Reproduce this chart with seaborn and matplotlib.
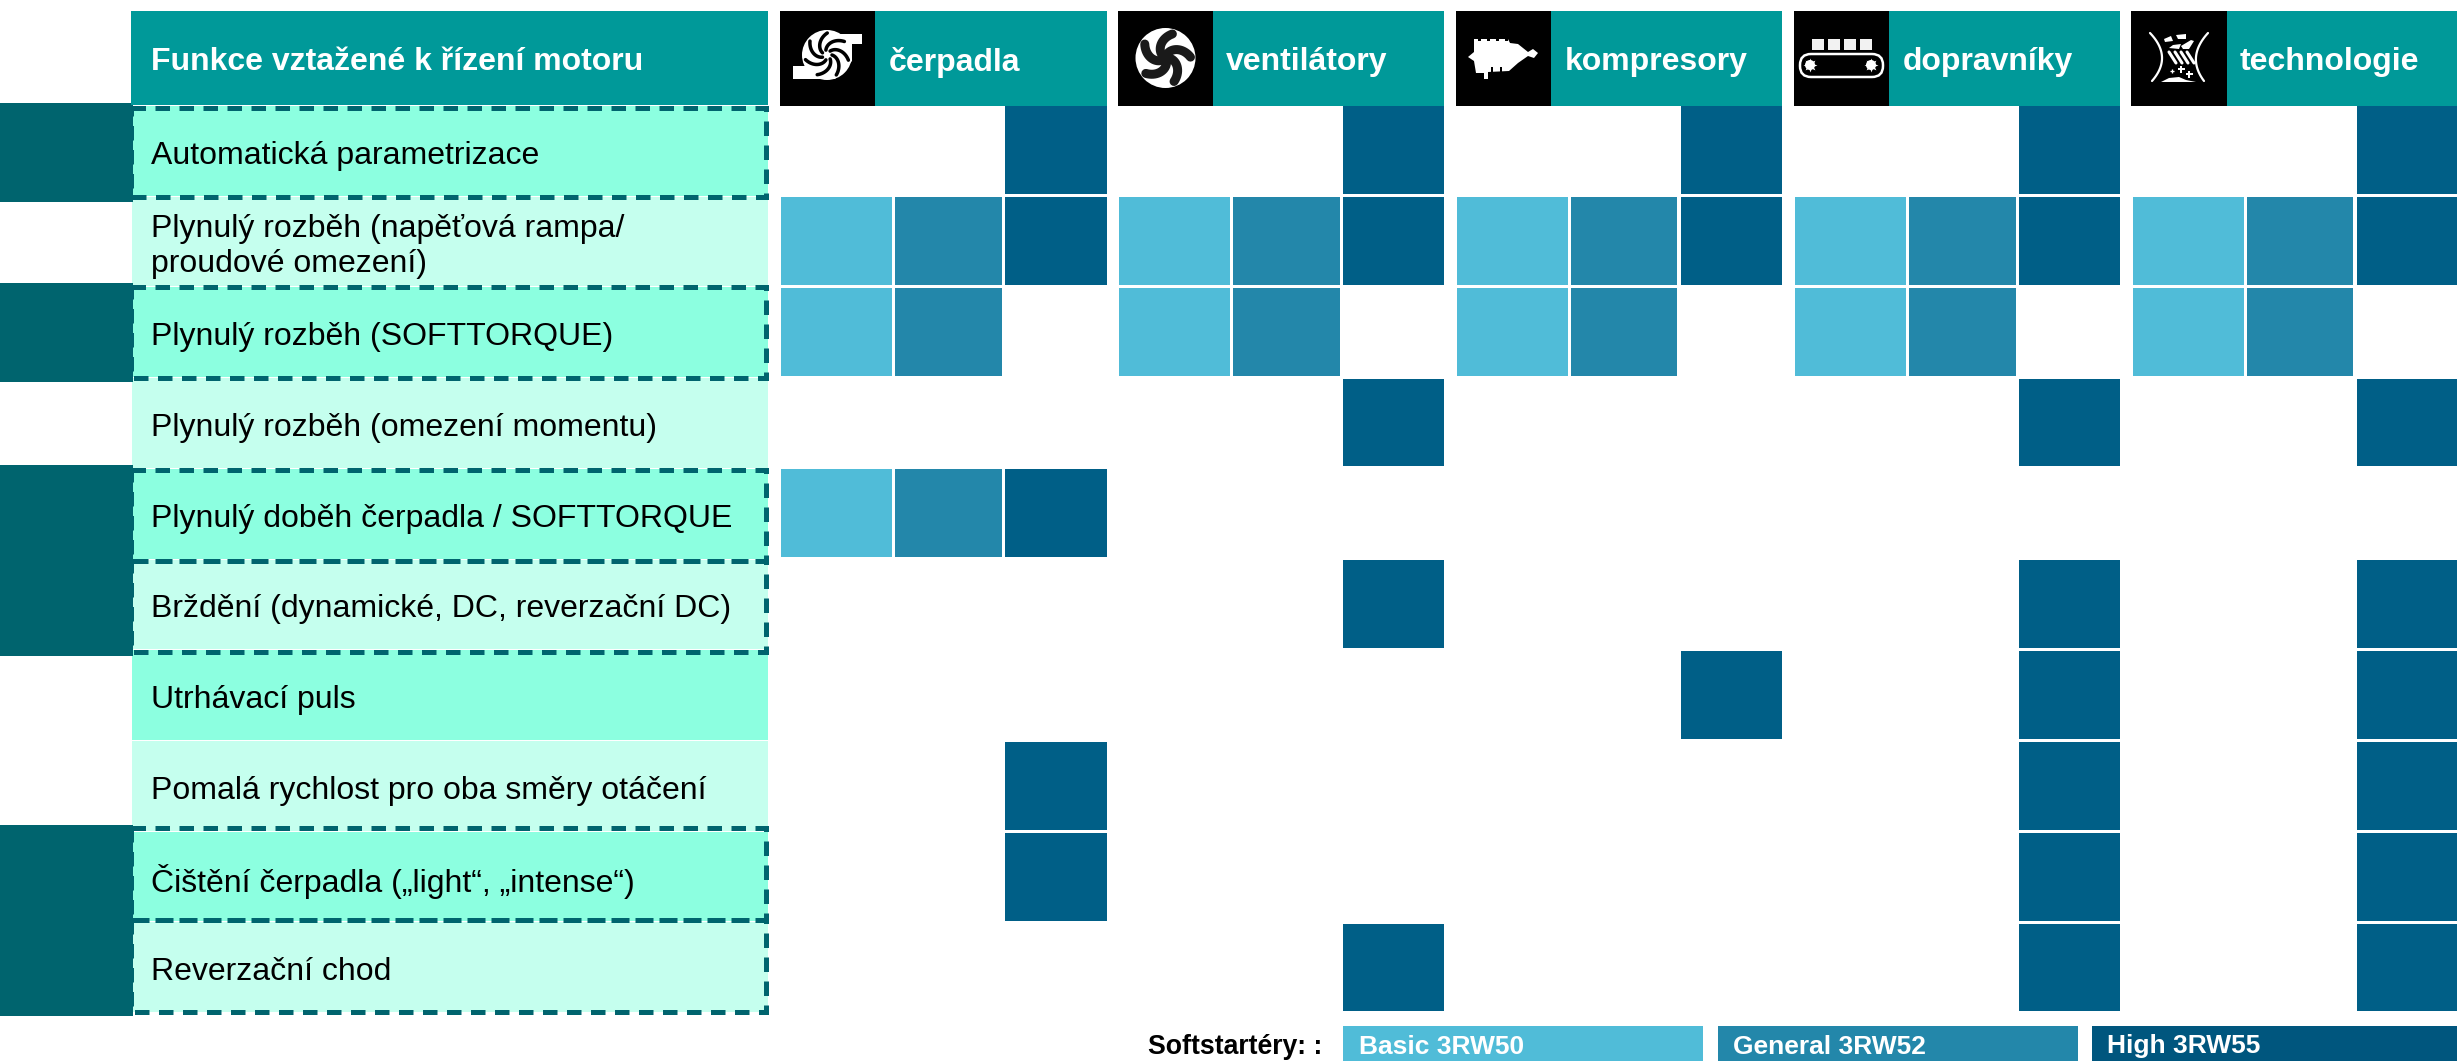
import numpy as np
import matplotlib
matplotlib.use('Agg')
import matplotlib.pyplot as plt
import seaborn as sns
from matplotlib.colors import ListedColormap
from matplotlib.patches import Rectangle, Circle, Polygon, FancyBboxPatch

# --- data ---
functions = [
    "Automatická parametrizace",
    "Plynulý rozběh (napěťová rampa/\nproudové omezení)",
    "Plynulý rozběh (SOFTTORQUE)",
    "Plynulý rozběh (omezení momentu)",
    "Plynulý doběh čerpadla / SOFTTORQUE",
    "Brždění (dynamické, DC, reverzační DC)",
    "Utrhávací puls",
    "Pomalá rychlost pro oba směry otáčení",
    "Čištění čerpadla („light“, „intense“)",
    "Reverzační chod",
]
applications = ["čerpadla", "ventilátory", "kompresory", "dopravníky", "technologie"]
legend_labels = ["Basic 3RW50", "General 3RW52", "High 3RW55"]

# 0 = none, 1 = Basic, 2 = General, 3 = High
cerpadla = [[0, 0, 3], [1, 2, 3], [1, 2, 0], [0, 0, 0], [1, 2, 3],
            [0, 0, 0], [0, 0, 0], [0, 0, 3], [0, 0, 3], [0, 0, 0]]
ventilatory = [[0, 0, 3], [1, 2, 3], [1, 2, 0], [0, 0, 3], [0, 0, 0],
               [0, 0, 3], [0, 0, 0], [0, 0, 0], [0, 0, 0], [0, 0, 3]]
kompresory = [[0, 0, 3], [1, 2, 3], [1, 2, 0], [0, 0, 0], [0, 0, 0],
              [0, 0, 0], [0, 0, 3], [0, 0, 0], [0, 0, 0], [0, 0, 0]]
dopravniky = [[0, 0, 3], [1, 2, 3], [1, 2, 0], [0, 0, 3], [0, 0, 0],
              [0, 0, 3], [0, 0, 3], [0, 0, 3], [0, 0, 3], [0, 0, 3]]
technologie = [[0, 0, 3], [1, 2, 3], [1, 2, 0], [0, 0, 3], [0, 0, 0],
               [0, 0, 3], [0, 0, 3], [0, 0, 3], [0, 0, 3], [0, 0, 3]]
matrices = [cerpadla, ventilatory, kompresory, dopravniky, technologie]

row_shade = [1, 0, 1, 0, 1, 0, 1, 0, 1, 0]
dark_bands = [[1], [1], [1, 1], [1, 1]]

# --- style / layout ---
TIER = ['#50BCD8', '#2387AA', '#005F87']
TEAL = '#009999'
DARK = '#00646E'
LIGHT = '#C5FFEE'
MID = '#8CFFE0'
W, H = 2457, 1061

sns.set_theme(style='white')
plt.rcParams['font.family'] = ['Liberation Sans', 'DejaVu Sans']

fig = plt.figure(figsize=(W / 100, H / 100), dpi=100)


def px_axes(x0, y0, x1, y1, z=1):
    return fig.add_axes([x0 / W, 1 - y1 / H, (x1 - x0) / W, (y1 - y0) / H], zorder=z)


# application columns, one heatmap per softstarter column
col_edges = [
    [(780, 892), (894, 1002), (1004, 1107)],
    [(1118, 1230), (1232, 1340), (1342, 1444)],
    [(1456, 1568), (1570, 1677), (1680, 1782)],
    [(1794, 1906), (1908, 2016), (2018, 2120)],
    [(2132, 2244), (2246, 2353), (2356, 2457)],
]
for matrix, edges in zip(matrices, col_edges):
    values = np.array(matrix)
    for t, (x0, x1) in enumerate(edges):
        ax = px_axes(x0 - 1.4, 104, x1 + 1.4, 1012.4)
        col = values[:, [t]]
        sns.heatmap(col, mask=col == 0, cmap=ListedColormap(TIER), vmin=1, vmax=3, cbar=False,
                    linewidths=2, linecolor='white', xticklabels=False, yticklabels=False, ax=ax)

# function names on the left
ax = px_axes(131, 105, 768, 1012)
sns.heatmap(np.array(row_shade).reshape(-1, 1), cmap=ListedColormap([LIGHT, MID]), vmin=0, vmax=1,
            cbar=False, linewidths=0.7, linecolor='white', xticklabels=False, yticklabels=False, ax=ax)
for i, name in enumerate(functions):
    ax.text(20 / 637, i + 0.56, name, fontsize=23, color='black', va='center', ha='left', linespacing=1.21)

# dark bands beside the framed rows
band_spans = [(103, 202), (283, 382), (465, 656), (825, 1016)]
for band, (y0, y1) in zip(dark_bands, band_spans):
    ax = px_axes(0, y0, 133, y1, z=2)
    sns.heatmap(np.array(band).reshape(-1, 1), cmap=ListedColormap([DARK]), cbar=False,
                xticklabels=False, yticklabels=False, ax=ax)

# overlay in pixel coordinates for headers, dashes, icons and legend
ov = fig.add_axes([0, 0, 1, 1], zorder=5)
ov.set_xlim(0, W)
ov.set_ylim(H, 0)
ov.axis('off')
ov.patch.set_alpha(0)

ov.add_patch(Rectangle((131, 11), 637, 94, color=TEAL, lw=0))
ov.text(151, 62, "Funkce vztažené k řízení motoru", fontsize=23, fontweight='bold', color='white', va='center')

# dashed frames
dash_rows = [(107.5, 197), (287, 378), (470, 561), (561, 652), (828, 920), (920, 1012)]
for y0, y1 in dash_rows:
    ov.add_patch(Rectangle((130.5, y0), 635.5, y1 - y0, fill=False, edgecolor=DARK, lw=3.6,
                           linestyle=(0, (2.9, 1.9))))

head_spans = [(780, 875, 1107), (1118, 1213, 1444), (1456, 1551, 1782), (1794, 1889, 2120), (2131, 2227, 2457)]
head_text_x = [889, 1226, 1565, 1903, 2240]
for (x0, x1, x2), tx, name in zip(head_spans, head_text_x, applications):
    ov.add_patch(Rectangle((x1, 11), x2 - x1, 95, color=TEAL, lw=0))
    ov.add_patch(Rectangle((x0, 11), x1 - x0, 95, color='black', lw=0))
    ov.text(tx, 62, name, fontsize=23, fontweight='bold', color='white', va='center')


def blades(cx, cy, r0, r1, n, sweep, width, color):
    for k in range(n):
        a = np.linspace(0, np.radians(sweep), 20) + 2 * np.pi * k / n
        r = np.linspace(r0, r1, 20)
        ov.plot(cx + r * np.cos(a), cy + r * np.sin(a), color=color, lw=width * 0.72, solid_capstyle='round')


# pump
ox, oy = 780, 11
ov.add_patch(Polygon([(ox + 37, oy + 23), (ox + 82, oy + 23), (ox + 82, oy + 33), (ox + 72, oy + 33),
                      (ox + 72, oy + 50), (ox + 55, oy + 68), (ox + 13, oy + 68), (ox + 13, oy + 55),
                      (ox + 26, oy + 55), (ox + 26, oy + 35)], color='white', lw=0))
ov.add_patch(Circle((ox + 47, oy + 44), 25, color='white', lw=0))
blades(ox + 47, oy + 44, 5, 22, 7, 65, 3.5, 'black')

# fan
ox = 1118
ov.add_patch(Circle((ox + 47.5, oy + 47), 30, color='white', lw=0))
blades(ox + 47.5, oy + 47, 3, 25, 5, 70, 9, '#1a1a1a')

# compressor
ox = 1456
ov.add_patch(Polygon([(ox + 18, oy + 28), (ox + 52, oy + 28), (ox + 54, oy + 32), (ox + 62, oy + 33),
                      (ox + 72, oy + 41), (ox + 77, oy + 38), (ox + 82, oy + 42), (ox + 78, oy + 47),
                      (ox + 72, oy + 45), (ox + 62, oy + 52), (ox + 53, oy + 60), (ox + 32, oy + 61),
                      (ox + 32, oy + 68), (ox + 28, oy + 68), (ox + 28, oy + 62), (ox + 20, oy + 62),
                      (ox + 18, oy + 50), (ox + 12, oy + 46), (ox + 18, oy + 41)], color='white', lw=0))
for bx in [22, 31, 40, 49]:
    ov.add_patch(Rectangle((ox + bx, oy + 27), 3, 3, color='black', lw=0))
for bx in [35, 44]:
    ov.add_patch(Rectangle((ox + bx, oy + 56), 2, 5, color='black', lw=0))

# conveyor
ox = 1794
for bx in [18, 34, 50, 66]:
    ov.add_patch(Rectangle((ox + bx, oy + 28), 12, 11, color='#f2f2f2', lw=0))
ov.add_patch(FancyBboxPatch((ox + 6, oy + 43), 83, 23, boxstyle='round,pad=0,rounding_size=11', ec='white',
                            fc='black', lw=1.8))
for gx in [16, 77]:
    ov.add_patch(Circle((ox + gx, oy + 54), 5, color='white', lw=0))
    ov.plot([ox + gx], [oy + 54], marker=(8, 1, 0), ms=10, color='white', mew=0)
    ov.add_patch(Circle((ox + gx, oy + 54), 2, color='black', lw=0))

# technology
ox = 2131
for x_top, x_mid, x_bot in [(19, 31, 21), (77, 65, 73)]:
    t = np.linspace(0, 1, 30)
    xs = (1 - t) ** 2 * x_top + 2 * t * (1 - t) * (2 * x_mid - (x_top + x_bot) / 2) + t ** 2 * x_bot
    ys = 22 + 48 * t
    ov.plot(ox + xs, oy + ys, color='white', lw=1.6)
for pts in [[(33, 28), (40, 25), (42, 30), (34, 31)], [(45, 24), (55, 23), (55, 28), (47, 28)],
            [(38, 37), (42, 34), (50, 33), (48, 38)], [(50, 35), (60, 29), (63, 30), (58, 38), (52, 38)]]:
    ov.add_patch(Polygon([(ox + a, oy + b) for a, b in pts], color='white', lw=0))
for sx in [38, 44, 50, 56]:
    ov.plot([ox + sx, ox + sx + 7], [oy + 41, oy + 52], color='white', lw=2.2)
for sx, sy, ms in [(41, 60, 4), (50, 58, 7), (58, 63, 7)]:
    ov.plot([ox + sx], [oy + sy], marker='P', ms=ms * 0.72, color='white', mew=0)
ov.add_patch(Polygon([(ox + 30, oy + 71), (ox + 38, oy + 67), (ox + 48, oy + 66), (ox + 55, oy + 69),
                      (ox + 65, oy + 71)], color='white', lw=0))

# legend strip
ov.text(1148, 1047, "Softstartéry: :", fontsize=19.2, fontweight='bold', color='black', va='center')
legend_boxes = [(1343, 1703, 1359), (1718, 2078, 1733), (2092, 2457, 2107)]
legend_colors = [TIER[0], TIER[1], '#00567E']
for (x0, x1, tx), c, lab in zip(legend_boxes, legend_colors, legend_labels):
    ov.add_patch(Rectangle((x0, 1026), x1 - x0, 35, color=c, lw=0))
    ov.text(tx, 1046.5, lab, fontsize=19, fontweight='bold', color='white', va='center')

fig.savefig('out.png', dpi=100, facecolor='white')
